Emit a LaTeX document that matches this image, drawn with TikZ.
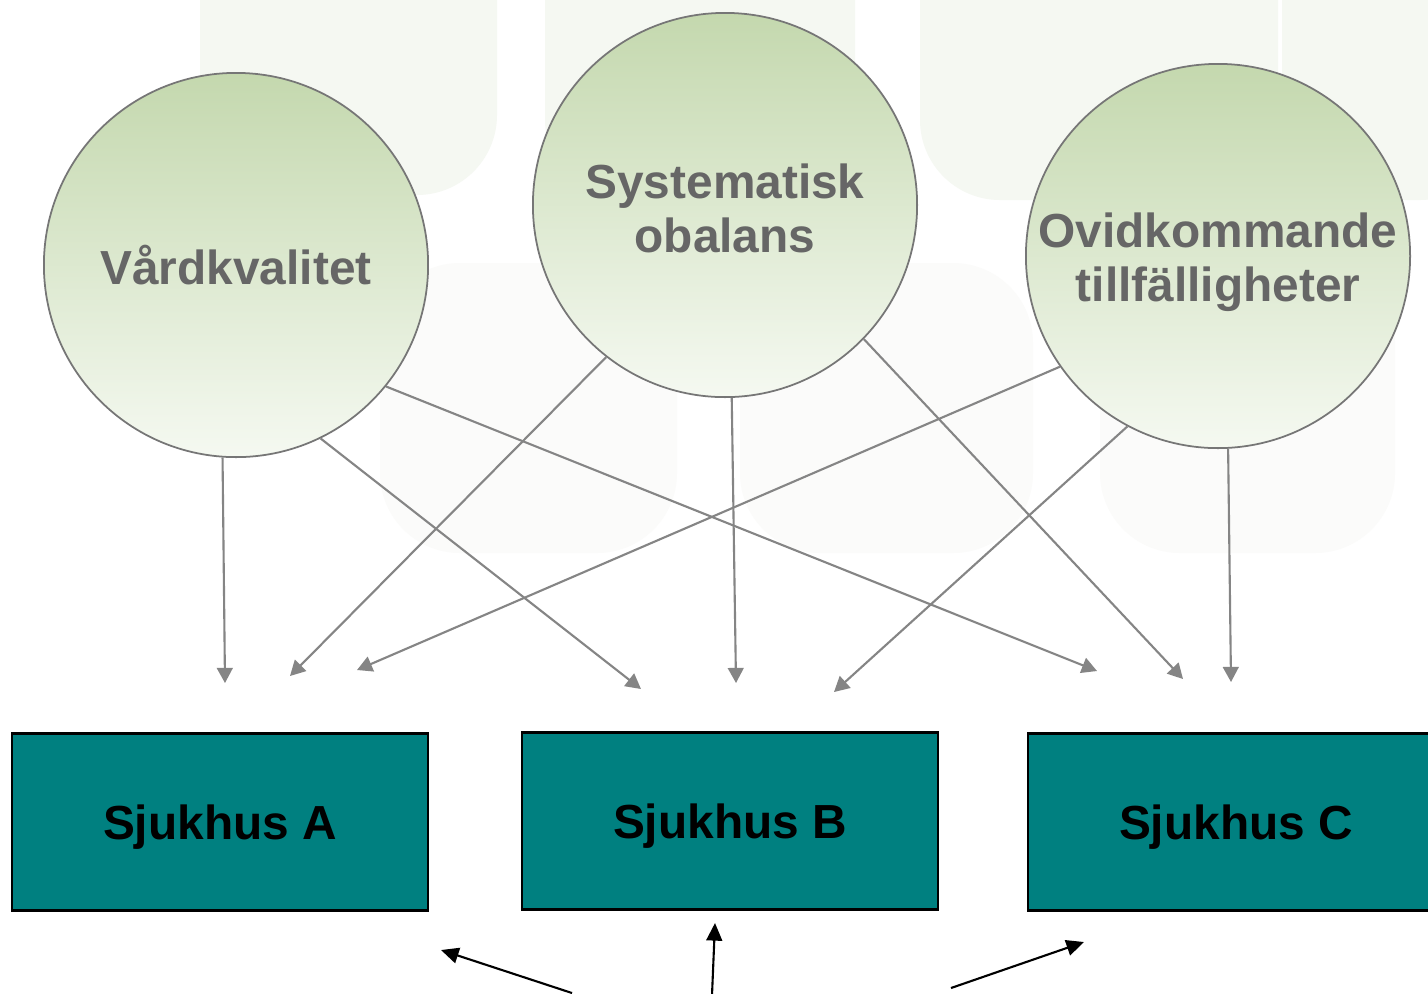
\documentclass[tikz,border=0pt]{standalone}
\usepackage{fontspec}
\setmainfont{Liberation Sans}
\usetikzlibrary{arrows.meta,positioning,shapes.geometric}
\definecolor{leaftop}{HTML}{C4D8AE}
\definecolor{leafbot}{HTML}{F5F9F1}
\definecolor{ring}{HTML}{767676}
\definecolor{label}{HTML}{666666}
\definecolor{conn}{HTML}{858585}
\definecolor{hosp}{HTML}{008080}
\definecolor{bgtop}{HTML}{F5F8F2}
\definecolor{bglow}{HTML}{FBFBFA}

\begin{document}
\begin{tikzpicture}[
    x=0.01cm, y=-0.01cm,
    every node/.style={font=\fontsize{13.6}{15.4}\selectfont\bfseries, align=center},
    factor/.style={circle, draw=ring, line width=0.5pt, minimum size=3.84cm, inner sep=0pt,
                   top color=leaftop, bottom color=leafbot, text=label},
    hospital/.style={draw=black, line width=0.7pt, fill=hosp, text=black,
                     text height=10.2pt, text depth=0pt,
                     minimum width=4.16cm, minimum height=1.77cm},
    arr/.style={-{Triangle[length=4.3pt, width=4.5pt]}, line width=0.6pt, conn},
    push/.style={-{Triangle[length=5pt, width=4.5pt]}, line width=0.6pt, black},
    pillar/.style={fill=#1, rounded corners=0.8cm},
    pillar/.default=bgtop,
  ]
  \useasboundingbox (0,0) rectangle (1428,993);
  \fill[white] (0,0) rectangle (1428,993);

  % faint background pillars
  \fill[pillar]        (200,-100) rectangle (497,195);
  \fill[pillar]        (545,-100) rectangle (855,200);
  \fill[pillar]        (920,-100) rectangle (1278,200);
  \fill[pillar]        (1282,-100) rectangle (1500,200);
  \fill[pillar=bglow]  (380,263) rectangle (677,553);
  \fill[pillar=bglow]  (740,263) rectangle (1033,553);
  \fill[pillar=bglow]  (1100,263) rectangle (1395,553);

  \node[factor] (vard) at (236,265)  {Vårdkvalitet};
  \node[factor] (obal) at (725,205)  {\rule{0pt}{11.6pt}Systematisk\\obalans};
  \node[factor] (ovid) at (1218,256) {\rule{0pt}{13.3pt}Ovidkommande\\tillfälligheter};

  \node[hospital] (sjA) at (220,822)  {Sjukhus A};
  \node[hospital] (sjB) at (730,821)  {Sjukhus B};
  \node[hospital] (sjC) at (1236,822) {Sjukhus C};

  % arrow ends above the hospitals
  \coordinate (toA1) at (225,683);
  \coordinate (toA2) at (290,676);
  \coordinate (toA3) at (357,670);
  \coordinate (toB1) at (641,689);
  \coordinate (toB2) at (736,683);
  \coordinate (toB3) at (834,692);
  \coordinate (toC1) at (1097,671);
  \coordinate (toC2) at (1183,679);
  \coordinate (toC3) at (1231,682);

  \draw[arr] (vard.-94)  -- (toA1);
  \draw[arr] (vard.-64)  -- (toB1);
  \draw[arr] (vard.-39)  -- (toC1);
  \draw[arr] (obal.-128) -- (toA2);
  \draw[arr] (obal.-88)  -- (toB2);
  \draw[arr] (obal.-44)  -- (toC2);
  \draw[arr] (ovid.-145) -- (toA3);
  \draw[arr] (ovid.-118) -- (toB3);
  \draw[arr] (ovid.-87)  -- (toC3);

  % arrows coming up from below
  \coordinate (srcL) at (572,993);
  \coordinate (srcM) at (712,995);
  \coordinate (srcR) at (951,988);
  \coordinate (hitA) at (441,950);
  \coordinate (hitB) at (715,923);
  \coordinate (hitC) at (1084,942);

  \draw[push] (srcL) -- (hitA);
  \draw[push] (srcM) -- (hitB);
  \draw[push] (srcR) -- (hitC);
\end{tikzpicture}
\end{document}
